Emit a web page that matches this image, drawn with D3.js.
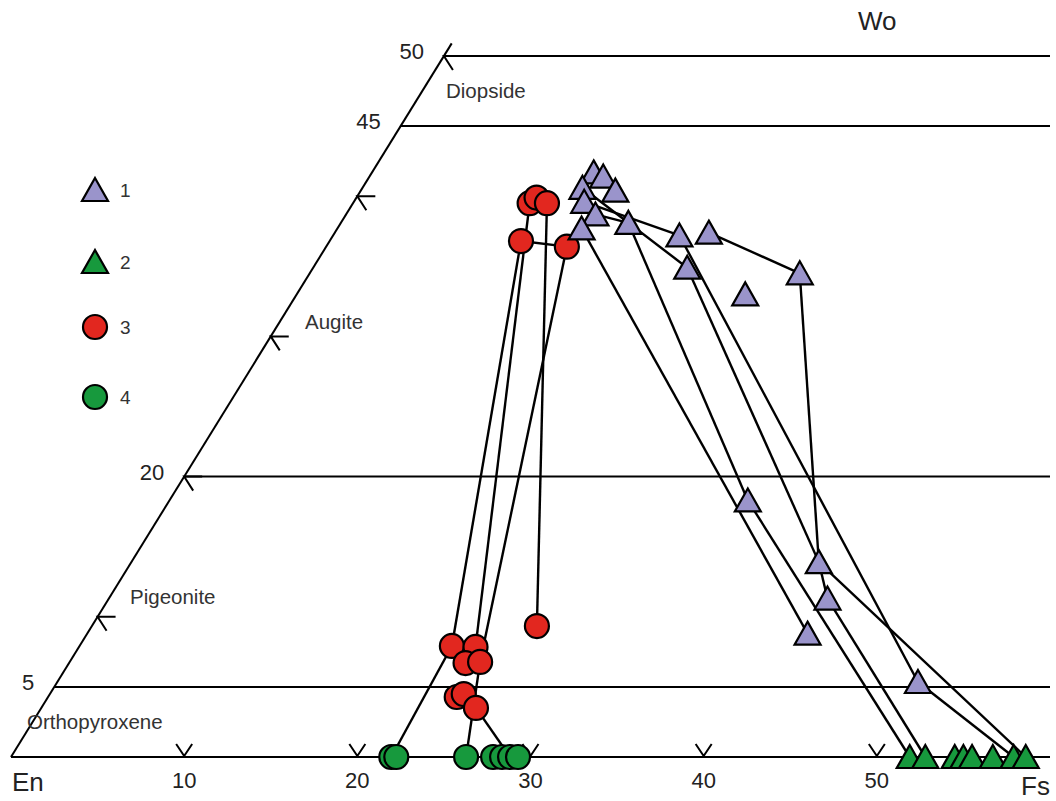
<!DOCTYPE html>
<head>
<meta charset="utf-8">
<title>Pyroxene quadrilateral</title>
<style>
  body { margin: 0; background: #fff; }
  text { font-family: "Liberation Sans", Arial, sans-serif; fill: #222; }
</style>
</head>
<body>
<script src="https://d3js.org/d3.v7.min.js"></script>
<script>
// series 1 - purple triangles (Fs, Wo in mol %)
const s1Fs = [12.8, 13.5, 12.7, 14.7, 13.3, 14.4, 14.1, 16.6, 20.0, 21.6, 21.6, 28.3, 25.9, 33.4, 39.7, 41.5, 41.6, 49.7];
const s1Wo = [41.7, 41.4, 40.6, 40.4, 39.6, 38.7, 37.7, 38.1, 37.2, 37.4, 34.9, 34.5, 33.0, 18.3, 13.9, 11.3, 8.8, 5.35];
// series 2 - green triangles
const s2Fs = [51.9, 52.8, 54.5, 55.0, 55.5, 56.7, 57.9, 58.6];
const s2Wo = [0, 0, 0, 0, 0, 0, 0, 0];
// series 3 - red circles
const s3Fs = [10.2, 10.4, 11.2, 11.05, 13.9, 25.7, 21.5, 22.9, 22.9, 23.7, 23.6, 23.9, 25.1];
const s3Wo = [39.5, 39.9, 39.5, 36.8, 36.4, 9.34, 7.92, 7.85, 6.7, 6.78, 4.28, 4.49, 3.5];
// series 4 - green circles
const s4Fs = [21.96, 22.25, 26.28, 27.84, 28.36, 28.82, 29.28];
const s4Wo = [0, 0, 0, 0, 0, 0, 0];

// tie lines: [series, index, series, index]
const ties = [
  [1, 9, 1, 11], [1, 11, 1, 14], [1, 14, 1, 15], [1, 15, 2, 1], [1, 14, 2, 7],
  [1, 10, 1, 14], [1, 8, 1, 17], [1, 17, 2, 6], [1, 7, 1, 13], [1, 13, 2, 0],
  [1, 6, 1, 16], [1, 2, 1, 10], [1, 4, 1, 8], [1, 5, 1, 7],
  [3, 3, 3, 4], [3, 3, 3, 6], [3, 0, 3, 7], [3, 2, 3, 5], [3, 4, 3, 9],
  [3, 6, 4, 0], [3, 9, 4, 2], [3, 12, 4, 5]
];

const woLines = [50, 45, 20, 5, 0];
const woLabels = [50, 45, 20, 5];
const woChevrons = [10, 20, 30, 40, 50];
const fsTicks = [10, 20, 30, 40, 50];
const fields = ["Diopside", "Augite", "Pigeonite", "Orthopyroxene"];
const fieldPos = [[446, 98], [305, 329], [130, 604], [27, 729]];
const legendLabels = ["1", "2", "3", "4"];

const purple = "#9a94cb", green = "#17993d", red = "#e2271f";

let width = 1056, height = 801;
let svg = d3.select("body").append("svg")
  .attr("width", width)
  .attr("height", height);

let x = d3.scaleLinear().domain([0, 60]).range([11, 1050]);
let y = d3.scaleLinear().domain([0, 50]).range([757, 56]);

// ternary position: horizontal = Fs + Wo/2
function px(fs, wo) { return x(fs + wo / 2); }

const series = {
  1: s1Fs.map((d, i) => ({ fs: d, wo: s1Wo[i] })),
  2: s2Fs.map((d, i) => ({ fs: d, wo: s2Wo[i] })),
  3: s3Fs.map((d, i) => ({ fs: d, wo: s3Wo[i] })),
  4: s4Fs.map((d, i) => ({ fs: d, wo: s4Wo[i] }))
};

// frame
svg.selectAll(".woline")
  .data(woLines)
  .enter()
  .append("line")
  .attr("class", "woline")
  .attr("x1", d => px(0, d))
  .attr("y1", d => y(d))
  .attr("x2", x(60))
  .attr("y2", d => y(d))
  .attr("stroke", "#000")
  .attr("stroke-width", 2);

svg.append("line")
  .attr("x1", px(0, 0)).attr("y1", y(0))
  .attr("x2", px(0, 50.9)).attr("y2", y(50.9))
  .attr("stroke", "#000")
  .attr("stroke-width", 2);

// chevrons on Wo edge
svg.selectAll(".wochev")
  .data(woChevrons)
  .enter()
  .append("path")
  .attr("class", "wochev")
  .attr("d", d => {
    let cx = px(0, d), cy = y(d);
    return `M${cx + 18},${cy} L${cx},${cy} L${cx + 9},${cy + 14}`;
  })
  .attr("fill", "none")
  .attr("stroke", "#000")
  .attr("stroke-width", 2);

svg.selectAll(".wolabel")
  .data(woLabels)
  .enter()
  .append("text")
  .attr("class", "wolabel")
  .attr("x", d => px(0, d) - 20)
  .attr("y", d => y(d) + 3)
  .attr("text-anchor", "end")
  .style("font-size", "22px")
  .text(d => d);

// V ticks on En-Fs base
svg.selectAll(".fstick")
  .data(fsTicks)
  .enter()
  .append("path")
  .attr("class", "fstick")
  .attr("d", d => `M${x(d) - 8},${y(0) - 13} L${x(d)},${y(0) - 1} L${x(d) + 8},${y(0) - 13}`)
  .attr("fill", "none")
  .attr("stroke", "#000")
  .attr("stroke-width", 2);

svg.selectAll(".fslabel")
  .data(fsTicks)
  .enter()
  .append("text")
  .attr("class", "fslabel")
  .attr("x", d => x(d))
  .attr("y", 788)
  .attr("text-anchor", "middle")
  .style("font-size", "22px")
  .text(d => d);

svg.append("text").attr("x", 858).attr("y", 30).style("font-size", "26px").text("Wo");
svg.append("text").attr("x", 12).attr("y", 791).style("font-size", "26px").text("En");
svg.append("text").attr("x", 1021).attr("y", 795).style("font-size", "26px").text("Fs");

svg.selectAll(".field")
  .data(fields)
  .enter()
  .append("text")
  .attr("class", "field")
  .attr("x", (d, i) => fieldPos[i][0])
  .attr("y", (d, i) => fieldPos[i][1])
  .style("font-size", "20.5px")
  .style("fill", "#333")
  .text(d => d);

// tie lines
svg.selectAll(".tie")
  .data(ties)
  .enter()
  .append("line")
  .attr("class", "tie")
  .attr("x1", d => { let p = series[d[0]][d[1]]; return px(p.fs, p.wo); })
  .attr("y1", d => y(series[d[0]][d[1]].wo))
  .attr("x2", d => { let p = series[d[2]][d[3]]; return px(p.fs, p.wo); })
  .attr("y2", d => y(series[d[2]][d[3]].wo))
  .attr("stroke", "#000")
  .attr("stroke-width", 2.4);

// markers
const triPath = "M0,-12 L13,11 L-13,11 Z";

function drawTriangles(data, cls, fill) {
  svg.selectAll("." + cls)
    .data(data)
    .enter()
    .append("path")
    .attr("class", cls)
    .attr("d", triPath)
    .attr("transform", d => `translate(${px(d.fs, d.wo)},${y(d.wo)})`)
    .attr("fill", fill)
    .attr("stroke", "#000")
    .attr("stroke-width", 2.2);
}

function drawCircles(data, cls, fill) {
  svg.selectAll("." + cls)
    .data(data)
    .enter()
    .append("circle")
    .attr("class", cls)
    .attr("cx", d => px(d.fs, d.wo))
    .attr("cy", d => y(d.wo))
    .attr("r", 12)
    .attr("fill", fill)
    .attr("stroke", "#000")
    .attr("stroke-width", 2.2);
}

drawCircles(series[3], "s3", red);
drawCircles(series[4], "s4", green);
drawTriangles(series[1], "s1", purple);
drawTriangles(series[2], "s2", green);

// legend
const legendY = [190, 262, 327, 397];
const legendFill = [purple, green, red, green];
legendLabels.forEach((lab, i) => {
  if (i < 2) {
    svg.append("path")
      .attr("d", triPath)
      .attr("transform", `translate(95,${legendY[i]})`)
      .attr("fill", legendFill[i])
      .attr("stroke", "#000")
      .attr("stroke-width", 2.2);
  } else {
    svg.append("circle")
      .attr("cx", 95).attr("cy", legendY[i]).attr("r", 12)
      .attr("fill", legendFill[i])
      .attr("stroke", "#000")
      .attr("stroke-width", 2.2);
  }
  svg.append("text")
    .attr("x", 120)
    .attr("y", legendY[i] + 7)
    .style("font-size", "19px")
    .style("fill", "#333")
    .text(lab);
});
</script>
</body>
